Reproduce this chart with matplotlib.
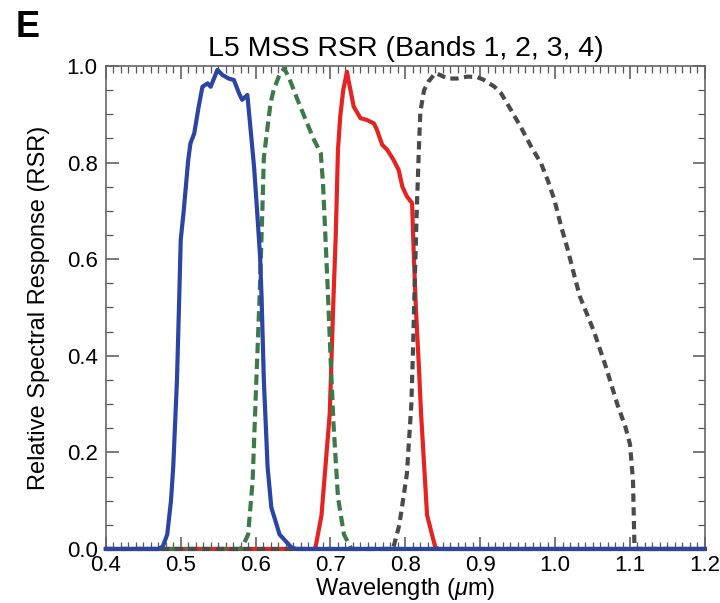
import matplotlib
matplotlib.use('Agg')
import matplotlib.pyplot as plt
from matplotlib.ticker import MultipleLocator

plt.rcParams['font.family'] = ['Liberation Sans', 'DejaVu Sans']
plt.rcParams['mathtext.fontset'] = 'custom'
plt.rcParams['mathtext.it'] = 'Liberation Sans:italic'
plt.rcParams['mathtext.rm'] = 'Liberation Sans'

# Band 1 (blue, solid)
b1_wl = [0.40, 0.470, 0.476, 0.482, 0.487, 0.490, 0.495, 0.498, 0.500, 0.504,
         0.510, 0.513, 0.518, 0.524, 0.529, 0.536, 0.540, 0.549, 0.556, 0.564,
         0.571, 0.578, 0.582, 0.589, 0.593, 0.598, 0.602, 0.606, 0.608, 0.611,
         0.616, 0.621, 0.632, 0.648, 0.655, 1.20]
b1_rsr = [0.0, 0.0, 0.005, 0.03, 0.10, 0.17, 0.35, 0.52, 0.64, 0.70,
          0.805, 0.84, 0.86, 0.916, 0.957, 0.964, 0.957, 0.992, 0.981, 0.974,
          0.971, 0.943, 0.93, 0.94, 0.874, 0.79, 0.70, 0.605, 0.52, 0.35,
          0.17, 0.086, 0.03, 0.003, 0.0, 0.0]

# Band 2 (green, dashed)
b2_wl = [0.40, 0.578, 0.582, 0.590, 0.596, 0.601, 0.606, 0.609, 0.611, 0.616,
         0.620, 0.624, 0.631, 0.638, 0.644, 0.656, 0.667, 0.678, 0.687, 0.690,
         0.693, 0.696, 0.700, 0.704, 0.710, 0.718, 0.728, 1.20]
b2_rsr = [0.0, 0.0, 0.003, 0.03, 0.14, 0.35, 0.55, 0.70, 0.81, 0.874,
          0.923, 0.95, 0.978, 0.995, 0.978, 0.93, 0.888, 0.847, 0.82, 0.757,
          0.654, 0.55, 0.40, 0.26, 0.107, 0.03, 0.0, 0.0]

# Band 3 (red, solid)
b3_wl = [0.40, 0.678, 0.680, 0.688, 0.699, 0.704, 0.707, 0.710, 0.713, 0.717,
         0.722, 0.724, 0.731, 0.740, 0.749, 0.758, 0.762, 0.769, 0.776, 0.784,
         0.791, 0.796, 0.802, 0.809, 0.811, 0.814, 0.818, 0.821, 0.829, 0.840,
         0.845, 1.20]
b3_rsr = [0.0, 0.0, 0.003, 0.07, 0.28, 0.52, 0.647, 0.826, 0.895, 0.95,
          0.988, 0.971, 0.916, 0.892, 0.888, 0.881, 0.868, 0.837, 0.826, 0.806,
          0.785, 0.75, 0.73, 0.716, 0.62, 0.50, 0.38, 0.28, 0.07, 0.003,
          0.0, 0.0]

# Band 4 (dark gray, dashed)
b4_wl = [0.40, 0.780, 0.784, 0.792, 0.802, 0.808, 0.810, 0.812, 0.815, 0.818,
         0.820, 0.825, 0.831, 0.840, 0.847, 0.856, 0.869, 0.883, 0.896, 0.905,
         0.919, 0.928, 0.941, 0.954, 0.968, 0.981, 0.990, 0.999, 1.008, 1.017,
         1.026, 1.033, 1.052, 1.068, 1.083, 1.094, 1.100, 1.104, 1.105, 1.106,
         1.20]
b4_rsr = [0.0, 0.0, 0.003, 0.05, 0.155, 0.30, 0.40, 0.52, 0.69, 0.826,
          0.905, 0.95, 0.968, 0.985, 0.981, 0.974, 0.974, 0.978, 0.977, 0.971,
          0.957, 0.943, 0.909, 0.874, 0.833, 0.799, 0.764, 0.723, 0.668, 0.619,
          0.564, 0.523, 0.45, 0.376, 0.30, 0.252, 0.217, 0.141, 0.072, 0.0,
          0.0]

x_ticks = [0.4, 0.5, 0.6, 0.7, 0.8, 0.9, 1.0, 1.1, 1.2]
y_ticks = [0.0, 0.2, 0.4, 0.6, 0.8, 1.0]

fig = plt.figure(figsize=(7.2, 6.03), dpi=100)
ax = fig.add_axes([0.147, 0.0896, 0.832, 0.801])

lw = 3.0
ax.plot(b3_wl, b3_rsr, color='#e52421', lw=lw, clip_on=False, zorder=3)
ax.plot(b2_wl, b2_rsr, color='#3d7a4a', lw=lw, dashes=(2.5, 1.3), clip_on=False, zorder=4)
ax.plot(b4_wl, b4_rsr, color='#4a4a4a', lw=lw, dashes=(2.0, 1.3), clip_on=False, zorder=4)
ax.plot(b1_wl, b1_rsr, color='#2b45a5', lw=lw, clip_on=False, zorder=5)

ax.set_xlim(0.4, 1.2)
ax.set_ylim(0.0, 1.0)
ax.set_xticks(x_ticks)
ax.set_xticklabels([f'{v:.1f}' for v in x_ticks])
ax.set_yticks(y_ticks)
ax.set_yticklabels([f'{v:.1f}' for v in y_ticks])
ax.xaxis.set_minor_locator(MultipleLocator(0.01))
ax.yaxis.set_minor_locator(MultipleLocator(0.05))

ax.tick_params(which='both', direction='in', top=True, right=True,
               colors='#555555', labelcolor='black', labelsize=16)
ax.tick_params(which='major', length=9, width=1.1, pad=6)
ax.tick_params(axis='x', which='major', pad=4)
ax.tick_params(which='minor', length=5, width=0.9)
for s in ax.spines.values():
    s.set_color('#666666')
    s.set_linewidth(1.2)

ax.set_title('L5 MSS RSR (Bands 1, 2, 3, 4)', fontsize=20.5, pad=7)
ax.set_xlabel(r'Wavelength ($\mu$m)', fontsize=17, labelpad=0)
ax.set_ylabel('Relative Spectral Response (RSR)', fontsize=17, labelpad=12)

fig.text(0.022, 0.955, 'E', fontsize=26, fontweight='bold', ha='left', va='center')

fig.savefig('out.png', dpi=100)
